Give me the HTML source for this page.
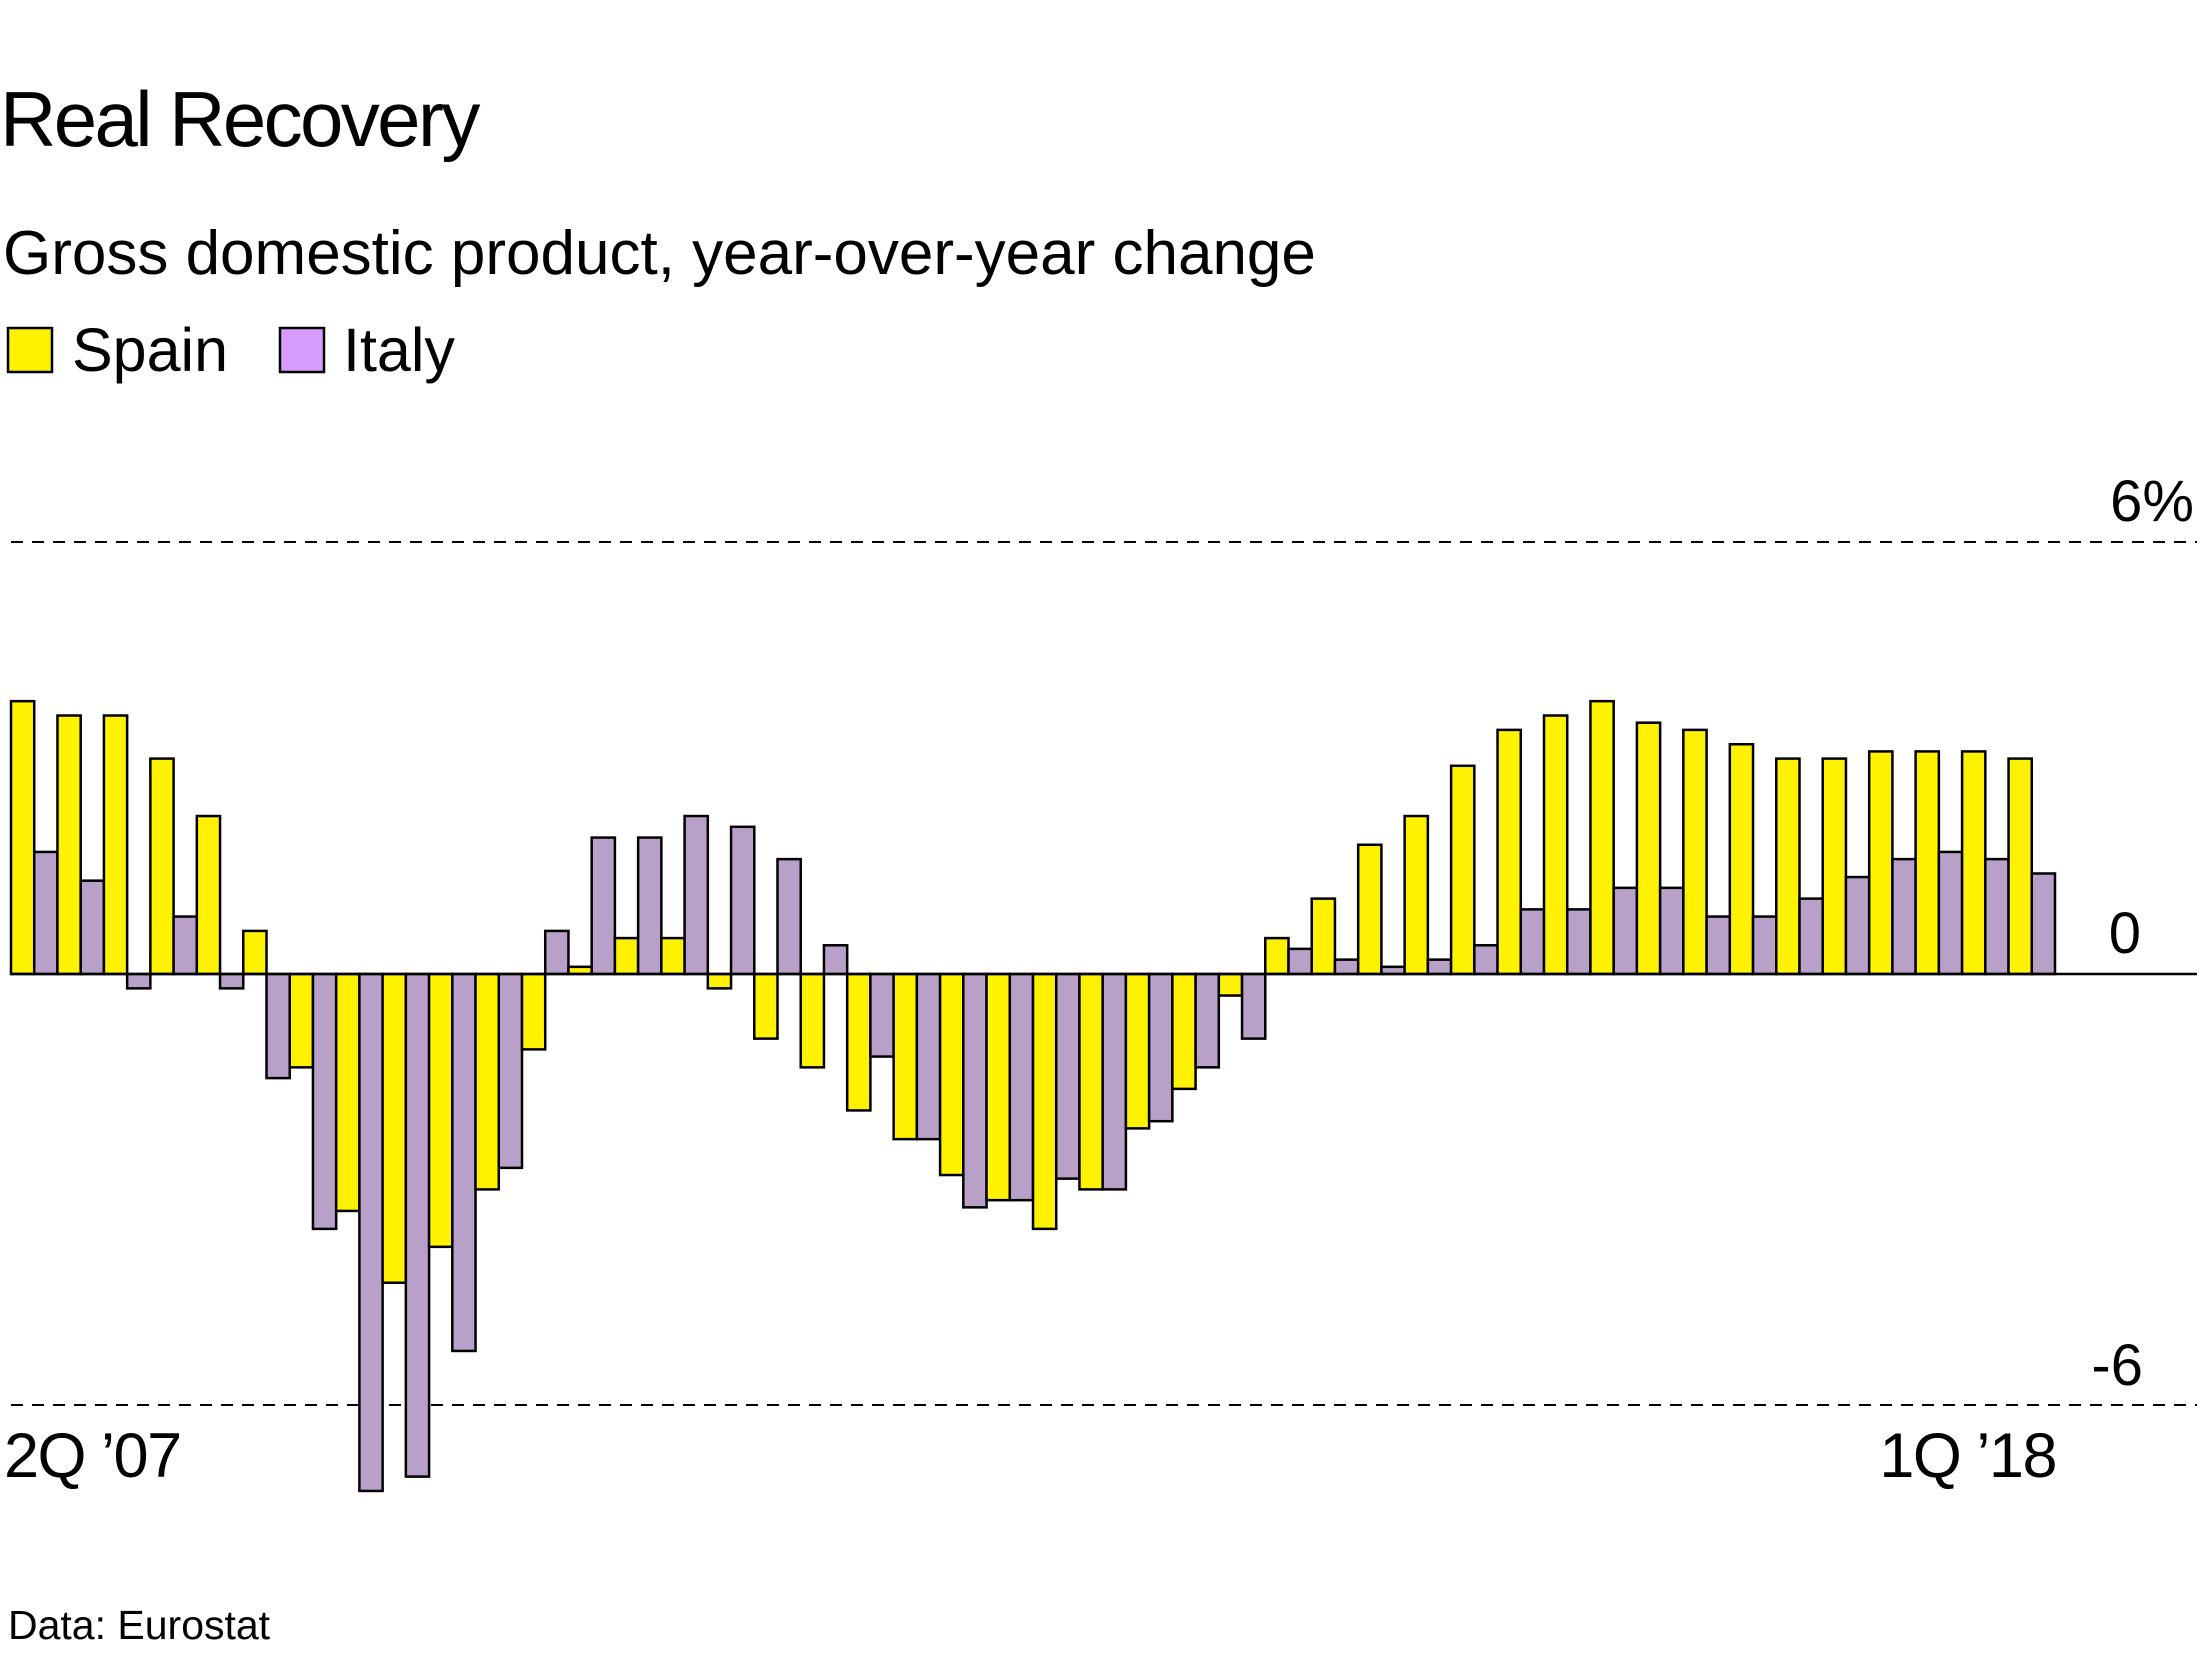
<!DOCTYPE html>
<html><head><meta charset="utf-8"><style>
html,body{margin:0;padding:0;background:#fff;}
body{width:2200px;height:1650px;overflow:hidden;font-family:"Liberation Sans",sans-serif;}
</style></head><body>
<svg id="chart" width="2200" height="1650" viewBox="0 0 2200 1650" xmlns="http://www.w3.org/2000/svg" font-family="Liberation Sans, sans-serif">
<text x="0" y="146" font-size="78" letter-spacing="-2.6" fill="#000">Real Recovery</text>
<text x="3" y="274" font-size="62" letter-spacing="0" fill="#000">Gross domestic product, year-over-year change</text>
<g>
<rect x="8" y="328" width="44" height="44" fill="#fff200" stroke="#000" stroke-width="2.5"/>
<text x="72" y="371" font-size="61" fill="#000">Spain</text>
<rect x="280" y="328" width="44" height="44" fill="#d89cff" stroke="#000" stroke-width="2.5"/>
<text x="343" y="371" font-size="61" fill="#000">Italy</text>
</g>
<line x1="11" x2="2197" y1="542" y2="542" stroke="#000" stroke-width="2" stroke-dasharray="12,9"/>
<line x1="11" x2="2197" y1="1405" y2="1405" stroke="#000" stroke-width="2" stroke-dasharray="12,9"/>
<g id="bars"></g>
<line x1="11" x2="2197" y1="974" y2="974" stroke="#000" stroke-width="2.5"/>
<text x="2194" y="521" font-size="58" text-anchor="end">6%</text>
<text x="2141" y="953" font-size="58" text-anchor="end">0</text>
<text x="2143" y="1385" font-size="58" text-anchor="end">-6</text>
<text x="4" y="1477" font-size="63" letter-spacing="-1.5">2Q ’07</text>
<text x="2056" y="1477" font-size="63" letter-spacing="-1.5" text-anchor="end">1Q ’18</text>
<text x="8" y="1639" font-size="41">Data: Eurostat</text>
</svg>
<script>
const quarters = ["2Q07","3Q07","4Q07","1Q08","2Q08","3Q08","4Q08","1Q09","2Q09","3Q09","4Q09","1Q10","2Q10","3Q10","4Q10","1Q11","2Q11","3Q11","4Q11","1Q12","2Q12","3Q12","4Q12","1Q13","2Q13","3Q13","4Q13","1Q14","2Q14","3Q14","4Q14","1Q15","2Q15","3Q15","4Q15","1Q16","2Q16","3Q16","4Q16","1Q17","2Q17","3Q17","4Q17","1Q18"];
const spain = [3.8,3.6,3.6,3.0,2.2,0.6,-1.3,-3.3,-4.3,-3.8,-3.0,-1.05,0.1,0.5,0.5,-0.2,-0.9,-1.3,-1.9,-2.3,-2.8,-3.15,-3.55,-3.0,-2.15,-1.6,-0.3,0.5,1.05,1.8,2.2,2.9,3.4,3.6,3.8,3.5,3.4,3.2,3.0,3.0,3.1,3.1,3.1,3.0];
const italy = [1.7,1.3,-0.2,0.8,-0.2,-1.45,-3.55,-7.2,-7.0,-5.25,-2.7,0.6,1.9,1.9,2.2,2.05,1.6,0.4,-1.15,-2.3,-3.25,-3.15,-2.85,-3.0,-2.05,-1.3,-0.9,0.35,0.2,0.1,0.2,0.4,0.9,0.9,1.2,1.2,0.8,0.8,1.05,1.35,1.6,1.7,1.6,1.4];
const x0 = 11, x1 = 2055, zeroY = 974, pxPerPct = 71.8;
const step = (x1 - x0) / quarters.length;
const bw = step / 2;
function xPos(i){ return x0 + i * step; }
function yPos(v){ return zeroY - v * pxPerPct; }
const g = document.getElementById('bars');
const NS = 'http://www.w3.org/2000/svg';
function addBar(x, v, fill, name){
  const r = document.createElementNS(NS, 'rect');
  const y = Math.min(yPos(v), zeroY);
  const h = Math.abs(yPos(v) - zeroY);
  r.setAttribute('x', x);
  r.setAttribute('y', y);
  r.setAttribute('width', bw);
  r.setAttribute('height', h);
  r.setAttribute('fill', fill);
  r.setAttribute('stroke', '#000');
  r.setAttribute('stroke-width', '2.5');
  
  
  g.appendChild(r);
}
quarters.forEach((q, i) => {
  addBar(xPos(i), spain[i], '#fff200', 'bar-spain-' + q.toLowerCase());
  addBar(xPos(i) + bw, italy[i], '#b9a0c9', 'bar-italy-' + q.toLowerCase());
});
</script>
</body></html>
